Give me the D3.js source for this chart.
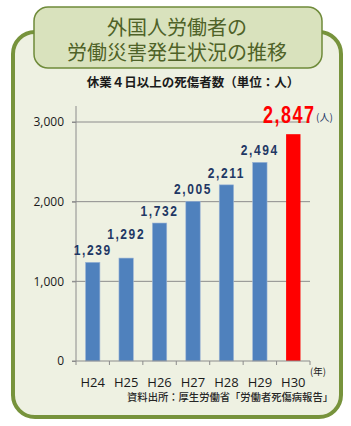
<!DOCTYPE html>
<html>
<head>
<meta charset="utf-8">
<script src="https://cdn.jsdelivr.net/npm/d3@7"></script>
<style>
    body { margin: 0; background: #fff; }
    svg { display: block; }
    .jp { font-family: "Noto Sans CJK JP", sans-serif; }
    .num { font-family: "Liberation Sans", sans-serif; font-weight: bold; }
</style>
</head>
<body>
<svg id="chart" width="351" height="426"></svg>
<script>
// 年度と死傷者数
const years = ["H24", "H25", "H26", "H27", "H28", "H29", "H30"];
const casualties = [1239, 1292, 1732, 2005, 2211, 2494, 2847];
const yTicks = [0, 1000, 2000, 3000];
const titleLines = ["外国人労働者の", "労働災害発生状況の推移"];
const subtitle = "休業４日以上の死傷者数（単位：人）";
const source = "資料出所：厚生労働省「労働者死傷病報告」";

const svg = d3.select("#chart");
const margin = {top: 106, left: 76, right: 41, bottom: 65};
const width = 351 - margin.left - margin.right;
const height = 426 - margin.top - margin.bottom;

// 外枠
svg.append("rect")
    .attr("x", 13).attr("y", 32)
    .attr("width", 328).attr("height", 385)
    .attr("rx", 22).attr("ry", 22)
    .attr("fill", "#eef1e2")
    .attr("stroke", "#77933c")
    .attr("stroke-width", 4);

// タイトル
svg.append("rect")
    .attr("x", 34).attr("y", 7)
    .attr("width", 288).attr("height", 61)
    .attr("rx", 14).attr("ry", 14)
    .attr("fill", "#d9e2bd")
    .attr("stroke", "#6f8b3a")
    .attr("stroke-width", 1.5);

svg.append("g")
    .attr("class", "jp")
    .selectAll("text")
    .data(titleLines)
    .enter()
    .append("text")
    .attr("x", 177)
    .attr("y", (d, i) => 35 + i * 25)
    .attr("text-anchor", "middle")
    .attr("font-size", 20)
    .attr("fill", "#4f6228")
    .text(d => d);

svg.append("text")
    .attr("class", "jp")
    .attr("x", 193).attr("y", 87)
    .attr("text-anchor", "middle")
    .attr("font-size", 12.5)
    .attr("font-weight", "bold")
    .attr("fill", "#1a1a1a")
    .text(subtitle);

const g = svg.append("g")
    .attr("transform", "translate(" + margin.left + "," + margin.top + ")");

const x = d3.scaleBand().domain(years).range([0, width]).paddingInner(0.57).paddingOuter(0.285);
const y = d3.scaleLinear().domain([0, 3000]).range([height, 16]);

// 目盛線
g.append("g")
    .selectAll("line")
    .data(yTicks.slice(1))
    .enter()
    .append("line")
    .attr("x1", -4).attr("x2", width)
    .attr("y1", d => y(d)).attr("y2", d => y(d))
    .attr("stroke", "#8c8c8c")
    .attr("stroke-width", 1);

// 棒
g.append("g")
    .selectAll("rect")
    .data(casualties)
    .enter()
    .append("rect")
    .attr("x", (d, i) => x(years[i]))
    .attr("y", d => y(d))
    .attr("width", x.bandwidth())
    .attr("height", d => height - y(d))
    .attr("fill", (d, i) => i === years.length - 1 ? "#ff0000" : "#4f81bd")
    .attr("stroke", (d, i) => i === years.length - 1 ? "none" : "#9db6d6")
    .attr("stroke-width", 0.6);

// y軸
const yAxis = g.append("g")
    .call(d3.axisLeft(y).tickValues(yTicks).tickSize(4).tickPadding(8).tickFormat(d3.format(",")));
yAxis.select(".domain").attr("stroke", "#8c8c8c").attr("d", "M0," + (y(3000) - 16) + "V" + height);
yAxis.selectAll(".tick line").attr("stroke", "#8c8c8c");
yAxis.selectAll("text")
    .attr("font-family", "Open Sans, sans-serif")
    .attr("font-size", 12)
    .attr("fill", "#1a1a1a");

// x軸
const xAxis = g.append("g")
    .attr("transform", "translate(0," + height + ")")
    .call(d3.axisBottom(x).tickSize(0).tickPadding(17));
xAxis.select(".domain").attr("stroke", "#8c8c8c").attr("d", "M-4,0H" + width);
xAxis.selectAll("text")
    .attr("font-family", "Open Sans, sans-serif")
    .attr("font-size", 13)
    .attr("fill", "#1a1a1a");

// 区切り目盛
const step = x.step();
g.append("g")
    .selectAll("line")
    .data(d3.range(years.length + 1))
    .enter()
    .append("line")
    .attr("x1", d => d * step).attr("x2", d => d * step)
    .attr("y1", height).attr("y2", height + 4)
    .attr("stroke", "#8c8c8c");

// 値ラベル（隣と重なる場合は上へずらす）
const last = casualties.length - 1;
let prevY = Infinity;
const labelY = casualties.slice(0, last).map((d) => {
    let ly = y(d) - 7;
    if (ly > prevY - 16) ly = prevY - 16;
    prevY = ly;
    return ly;
});

g.append("g")
    .attr("class", "num")
    .selectAll("text")
    .data(casualties.slice(0, last))
    .enter()
    .append("text")
    .attr("transform", (d, i) => "translate(" + (x(years[i]) + x.bandwidth() / 2) + "," + labelY[i] + ") scale(0.8,1)")
    .attr("text-anchor", "middle")
    .attr("font-size", 15)
    .attr("letter-spacing", 2)
    .attr("fill", "#1f3864")
    .text(d => d3.format(",")(d));

g.append("text")
    .attr("class", "num")
    .attr("transform", "translate(" + (x(years[last]) + x.bandwidth() / 2 - 4) + "," + (y(casualties[last]) - 11) + ") scale(0.75,1)")
    .attr("text-anchor", "middle")
    .attr("font-size", 24)
    .attr("letter-spacing", 2)
    .attr("fill", "#ff0000")
    .text(d3.format(",")(casualties[last]));

svg.append("text")
    .attr("class", "jp")
    .attr("x", 316).attr("y", 121)
    .attr("font-size", 10)
    .attr("fill", "#1f3864")
    .text("(人)");

svg.append("text")
    .attr("class", "jp")
    .attr("x", 310).attr("y", 375)
    .attr("font-size", 9.5)
    .attr("fill", "#1a1a1a")
    .text("(年)");

svg.append("text")
    .attr("class", "jp")
    .attr("x", 333).attr("y", 401)
    .attr("text-anchor", "end")
    .attr("font-size", 10.3)
    .attr("font-weight", 500)
    .attr("fill", "#262626")
    .text(source);
</script>
</body>
</html>
